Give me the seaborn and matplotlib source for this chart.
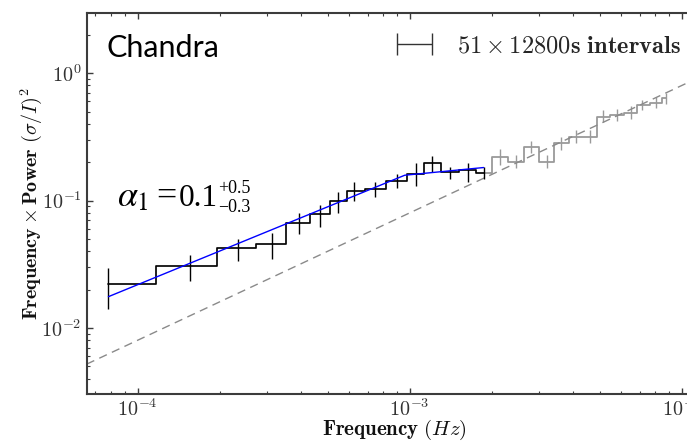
import numpy as np
import matplotlib
matplotlib.use("Agg")
import matplotlib.pyplot as plt
import matplotlib.ticker as mticker
import seaborn as sns
from matplotlib.legend_handler import HandlerErrorbar
from matplotlib.container import ErrorbarContainer

# ---------------- data ----------------
# fitted range (black)
fit_freq = [7.8125e-5, 1.5625e-4, 2.34375e-4, 3.125e-4, 3.90625e-4, 4.6875e-4,
            5.46875e-4, 6.25e-4, 7.435e-4, 8.96e-4, 1.052e-3, 1.205e-3,
            1.403e-3, 1.633e-3, 1.870e-3]
fit_power = [0.0220, 0.0306, 0.0422, 0.0453, 0.067, 0.078, 0.099, 0.119,
             0.123, 0.142, 0.163, 0.196, 0.168, 0.173, 0.166]
fit_hi = [0.0297, 0.0373, 0.0499, 0.0553, 0.0795, 0.0922, 0.117, 0.140,
          0.140, 0.161, 0.196, 0.223, 0.184, 0.198, 0.184]
fit_lo = [0.0140, 0.0235, 0.0337, 0.0347, 0.0543, 0.0623, 0.080, 0.099,
          0.107, 0.125, 0.131, 0.168, 0.147, 0.140, 0.147]

# high-frequency range (grey)
hf_freq = [2.142e-3, 2.454e-3, 2.803e-3, 3.197e-3, 3.612e-3, 4.101e-3,
           4.589e-3, 5.137e-3, 5.802e-3, 6.494e-3, 7.170e-3, 8.072e-3, 8.786e-3]
hf_power = [0.2206, 0.2015, 0.2642, 0.2015, 0.2809, 0.3165, 0.3165, 0.4544,
            0.4685, 0.4883, 0.561, 0.5848, 0.6333]
hf_hi = [0.253, 0.228, 0.295, 0.228, 0.318, 0.356, 0.356, 0.51, 0.525,
         0.548, 0.62, 0.645, 0.70]
hf_lo = [0.190, 0.180, 0.237, 0.180, 0.250, 0.283, 0.283, 0.41, 0.42,
         0.44, 0.51, 0.53, 0.575]

# model (blue) and white-noise level (dashed)
model_freq = [7.8125e-5, 9.59e-4, 1.870e-3]
model_power = [0.0176, 0.158, 0.1816]
noise_level = 80.0

legend_label = r"$51 \times 12800\mathbf{s\ intervals}$"
mission = "Chandra"
alpha_sym = r"$\alpha_1$"
alpha_eq = "="
alpha_val = "0.1"
alpha_up = "+0.5"
alpha_dn = "\u22120.3"

# ---------------- styling ----------------
sns.set_style("ticks")
plt.rcParams["font.family"] = ["DejaVu Serif"]
plt.rcParams["mathtext.fontset"] = "cm"

W, H = 687, 441
fig = plt.figure(figsize=(W / 100, H / 100), dpi=100)
left_px, right_px, top_px, bot_px = 86.7, 703.0, 13.3, 394.0
ax = fig.add_axes([left_px / W, 1 - bot_px / H, (right_px - left_px) / W,
                   (bot_px - top_px) / H])
ax.set_xscale("log")
ax.set_yscale("log")
xlim = (6.5e-5, 1.197e-2)
ax.set_xlim(*xlim)
ax.set_ylim(3.03e-3, 2.95)

spine_col = "#3c3c3c"

# grey: full data set as steps
all_freq = np.array(fit_freq + hf_freq)
all_power = np.array(fit_power + hf_power)
sns.lineplot(x=all_freq, y=all_power, drawstyle="steps-mid", color="#9a9a9a",
             lw=1.3, estimator=None, sort=False, ax=ax)
hf_f = np.array(hf_freq); hf_p = np.array(hf_power)
ax.errorbar(hf_f, hf_p, yerr=[hf_p - np.array(hf_lo), np.array(hf_hi) - hf_p],
            fmt="none", ecolor="#9a9a9a", elinewidth=1.0)

# white-noise dashed line
xl = np.array(xlim)
ax.plot(xl, noise_level * xl, ls=(0, (6, 4)), color="#8a8a8a", lw=1.0)

# black fitted data
ff = np.array(fit_freq); fp = np.array(fit_power)
sns.lineplot(x=ff, y=fp, drawstyle="steps-mid", color="black", lw=1.1,
             estimator=None, sort=False, ax=ax)
ax.errorbar(ff, fp, yerr=[fp - np.array(fit_lo), np.array(fit_hi) - fp],
            fmt="none", ecolor="black", elinewidth=1.0)

# blue model
sns.lineplot(x=model_freq, y=model_power, color="#0000ff", lw=1.0,
             estimator=None, sort=False, ax=ax)

# legend proxy
cont = ax.errorbar([np.nan], [np.nan], xerr=[1.0], fmt="none", ecolor="#333333",
                   elinewidth=1.0, capsize=8, capthick=1.0, label=legend_label)
fig.legend(handles=[cont], labels=[legend_label],
           handler_map={ErrorbarContainer: HandlerErrorbar(xerr_size=0.72)},
           loc="center right", bbox_to_anchor=(681 / W, 1 - 45.7 / H),
           bbox_transform=fig.transFigure, frameon=False, fontsize=17.6,
           handlelength=1.5, handletextpad=1.0, borderpad=0, borderaxespad=0)

# axes style
for s in ax.spines.values():
    s.set_color(spine_col)
    s.set_linewidth(1.5)
ax.tick_params(which="both", direction="in", top=True, right=True, colors=spine_col,
               labelcolor="#333333")
ax.tick_params(which="major", length=4, width=1.0, labelsize=14.5, pad=3.5)
ax.tick_params(which="minor", length=2.5, width=0.8)

fmt = mticker.FuncFormatter(lambda v, p: r"$10^{%d}$" % int(round(np.log10(v))))
ax.xaxis.set_major_formatter(fmt)
ax.yaxis.set_major_formatter(fmt)
ax.xaxis.set_minor_formatter(mticker.NullFormatter())
ax.yaxis.set_minor_formatter(mticker.NullFormatter())

ax.set_xlabel(r"$\mathbf{Frequency}\ (Hz)$", fontsize=15, color="#111111")
ax.set_ylabel(r"$\mathbf{Frequency} \times \mathbf{Power}\ (\sigma/I)^2$",
              fontsize=14.5, color="#111111")
axw, axh = right_px - left_px, bot_px - top_px
ax.xaxis.set_label_coords((394 - left_px) / axw, -(435 - bot_px) / axh)
ax.xaxis.label.set_va("baseline")
ax.yaxis.set_label_coords(-(left_px - 31) / axw, (bot_px - 204) / axh)
ax.yaxis.label.set_va("center")

fig.text(107 / W, 1 - 57 / H, mission, family="Lato", fontsize=22,
         va="baseline", ha="left", color="black")
fig.text(117 / W, 1 - 206 / H, alpha_sym, math_fontfamily="stix", fontsize=26,
         va="baseline", ha="left", color="black")
fig.text(156 / W, 1 - 206 / H, alpha_eq, family="Liberation Serif", fontsize=26,
         va="baseline", ha="left", color="black")
fig.text(179 / W, 1 - 206 / H, alpha_val, family="Liberation Serif", fontsize=22.5,
         va="baseline", ha="left", color="black")
fig.text(218 / W, 1 - 193 / H, alpha_up, family="Liberation Serif", fontsize=13,
         va="baseline", ha="left", color="black")
fig.text(218 / W, 1 - 212 / H, alpha_dn, family="Liberation Serif", fontsize=13,
         va="baseline", ha="left", color="black")

fig.savefig("out.png", dpi=100)
